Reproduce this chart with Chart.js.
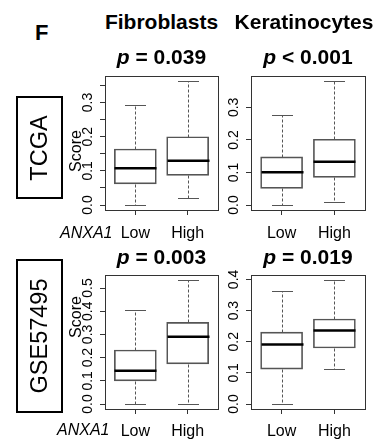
<!DOCTYPE html>
<html lang="en">
<head>
<meta charset="UTF-8">
<title>ANXA1 Fibroblast / Keratinocyte scores</title>
<script src="https://cdn.jsdelivr.net/npm/chart.js"></script>
<style>
  body { margin: 0; background: #fff; font-family: "Liberation Sans", Arial, sans-serif; }
  #fig { position: relative; width: 377px; height: 439px; overflow: hidden; }
  canvas { position: absolute; }
  .t { position: absolute; white-space: nowrap; line-height: 1; color: #000; z-index: 2; }
  .c { transform: translateX(-50%); }
  .b { font-weight: bold; }
  .rot { transform: translate(-50%, -50%) rotate(-90deg); }
  .cohort { position: absolute; border: 2px solid #000; box-sizing: border-box; z-index: 2; }
  .cohort span { position: absolute; left: 50%; top: 50%; transform: translate(-50%, -50%) rotate(-90deg);
                 font-size: 23.5px; line-height: 1; white-space: nowrap; }
</style>
</head>
<body>
<div id="fig">
  <canvas id="tcgaFib"></canvas>
  <canvas id="tcgaKer"></canvas>
  <canvas id="gseFib"></canvas>
  <canvas id="gseKer"></canvas>

  <div class="t b" style="left:35px; top:22px; font-size:22px;">F</div>
  <div class="t b c" style="left:161.5px; top:11px; font-size:21px;">Fibroblasts</div>
  <div class="t b c" style="left:304px; top:11px; font-size:21px;">Keratinocytes</div>

  <div class="t b c" style="left:161.5px; top:46px; font-size:21px;"><i>p</i> = 0.039</div>
  <div class="t b c" style="left:308px; top:46px; font-size:21px;"><i>p</i> &lt; 0.001</div>
  <div class="t b c" style="left:161.5px; top:246px; font-size:21px;"><i>p</i> = 0.003</div>
  <div class="t b c" style="left:308px; top:246px; font-size:21px;"><i>p</i> = 0.019</div>

  <div class="t rot" style="left:75.5px; top:151px; font-size:16px;">Score</div>
  <div class="t rot" style="left:75.5px; top:317px; font-size:16px;">Score</div>

  <div class="t" style="left:60px; top:224.5px; font-size:16px; font-style:italic;">ANXA1</div>
  <div class="t" style="left:57px; top:421.5px; font-size:16px; font-style:italic;">ANXA1</div>

  <div class="cohort" style="left:16px; top:96px; width:47px; height:103px;"><span>TCGA</span></div>
  <div class="cohort" style="left:16px; top:259px; width:47px; height:154px;"><span>GSE57495</span></div>
</div>

<script>
    var groups = ['Low', 'High'];

    // five-number summaries: [min, q1, median, q3, max]
    var tcgaFibLow  = [0.000, 0.062, 0.108, 0.164, 0.294];
    var tcgaFibHigh = [0.020, 0.087, 0.130, 0.200, 0.362];
    var tcgaKerLow  = [0.000, 0.051, 0.101, 0.148, 0.277];
    var tcgaKerHigh = [0.010, 0.085, 0.133, 0.202, 0.380];
    var gseFibLow   = [0.000, 0.100, 0.143, 0.233, 0.406];
    var gseFibHigh  = [0.000, 0.173, 0.290, 0.352, 0.533];
    var gseKerLow   = [0.000, 0.112, 0.191, 0.231, 0.364];
    var gseKerHigh  = [0.114, 0.180, 0.236, 0.273, 0.397];

    // y tick marks and their labels
    var tcgaFibTicks = [0, 0.05, 0.1, 0.15, 0.2, 0.25, 0.3, 0.35];
    var tcgaFibTickLabels = ['0.0', '', '0.1', '', '0.2', '', '0.3', ''];
    var tcgaKerTicks = [0, 0.1, 0.2, 0.3];
    var tcgaKerTickLabels = ['0.0', '0.1', '0.2', '0.3'];
    var gseFibTicks = [0, 0.1, 0.2, 0.3, 0.4, 0.5];
    var gseFibTickLabels = ['0.0', '0.1', '0.2', '0.3', '0.4', '0.5'];
    var gseKerTicks = [0, 0.1, 0.2, 0.3, 0.4];
    var gseKerTickLabels = ['0.0', '0.1', '0.2', '0.3', '0.4'];

    Chart.defaults.font.family = "'Liberation Sans', Arial, sans-serif";

    var axisCol = '#333';
    var boxCol = '#555';

    // whiskers, staples, medians and the plot frame
    var boxExtras = {
        id: 'boxExtras',
        afterDatasetsDraw: function (chart) {
            var ctx = chart.ctx, xs = chart.scales.x, ys = chart.scales.y, a = chart.chartArea;
            var stats = chart.data.datasets[0].stats;
            var bars = chart.getDatasetMeta(0).data;
            ctx.save();
            stats.forEach(function (s, i) {
                var cx = Math.round(xs.getPixelForValue(i + 1)) + 0.5;
                var half = bars[i].width / 2;
                var py = function (v) { return Math.round(ys.getPixelForValue(v)) + 0.5; };
                ctx.strokeStyle = boxCol;
                ctx.lineWidth = 1;
                ctx.setLineDash([3, 2]);
                ctx.beginPath();
                ctx.moveTo(cx, py(s[3])); ctx.lineTo(cx, py(s[4]));
                ctx.moveTo(cx, py(s[1])); ctx.lineTo(cx, py(s[0]));
                ctx.stroke();
                ctx.setLineDash([]);
                ctx.beginPath();
                ctx.moveTo(cx - half / 2, py(s[4])); ctx.lineTo(cx + half / 2, py(s[4]));
                ctx.moveTo(cx - half / 2, py(s[0])); ctx.lineTo(cx + half / 2, py(s[0]));
                ctx.stroke();
                ctx.strokeStyle = '#000';
                ctx.lineWidth = 2.5;
                ctx.beginPath();
                ctx.moveTo(cx - half, ys.getPixelForValue(s[2]));
                ctx.lineTo(cx + half, ys.getPixelForValue(s[2]));
                ctx.stroke();
            });
            ctx.strokeStyle = axisCol;
            ctx.lineWidth = 1;
            ctx.strokeRect(Math.round(a.left) + 0.5, Math.round(a.top) + 0.5,
                           Math.round(a.right - a.left), Math.round(a.bottom - a.top));
            ctx.restore();
        }
    };

    function makePanel(id, area, low, high, ticks, tickLabels, labelPad) {
        var canvas = document.getElementById(id);
        var padL = 46, padT = 5, padR = 6, xh = 34;
        canvas.width = area.right - area.left + padL + padR;
        canvas.height = area.bottom - area.top + padT + xh + 2;
        canvas.style.left = (area.left - padL) + 'px';
        canvas.style.top = (area.top - padT) + 'px';

        // R style axis limits: data range stretched by 4%
        var all = low.concat(high);
        var lo = Math.min.apply(null, all), hi = Math.max.apply(null, all);
        var ext = (hi - lo) * 0.04;

        return new Chart(canvas, {
            type: 'bar',
            data: {
                datasets: [{
                    data: [{ x: 1, y: [low[1], low[3]] }, { x: 2, y: [high[1], high[3]] }],
                    stats: [low, high],
                    backgroundColor: 'rgba(0,0,0,0)',
                    borderColor: boxCol,
                    borderWidth: 1,
                    borderSkipped: false,
                    barThickness: 42
                }]
            },
            options: {
                responsive: false,
                animation: false,
                devicePixelRatio: 1,
                layout: { padding: { left: 0, top: padT, right: padR, bottom: 2 } },
                plugins: { legend: { display: false }, tooltip: { enabled: false } },
                scales: {
                    x: {
                        type: 'linear', min: 0.42, max: 2.58, offset: false,
                        border: { display: false },
                        grid: { drawOnChartArea: false, offset: false, tickLength: 5, color: axisCol },
                        ticks: { color: '#000', font: { size: 16 }, padding: labelPad, autoSkip: false,
                                 callback: function (v) { return groups[v - 1]; } },
                        afterBuildTicks: function (s) { s.ticks = [{ value: 1 }, { value: 2 }]; },
                        afterFit: function (s) { s.height = xh; }
                    },
                    y: {
                        min: lo - ext, max: hi + ext,
                        border: { display: false },
                        grid: { drawOnChartArea: false, tickLength: 5, color: axisCol },
                        ticks: { color: '#000', font: { size: 14 }, padding: 2, autoSkip: false,
                                 minRotation: 90, maxRotation: 90, crossAlign: 'center',
                                 callback: function (v, i) { return tickLabels[i]; } },
                        afterBuildTicks: function (s) { s.ticks = ticks.map(function (v) { return { value: v }; }); },
                        afterFit: function (s) { s.width = padL; }
                    }
                }
            },
            plugins: [boxExtras]
        });
    }

    makePanel('tcgaFib', { left: 105, top: 71, right: 218, bottom: 210 }, tcgaFibLow, tcgaFibHigh, tcgaFibTicks, tcgaFibTickLabels, 9);
    makePanel('tcgaKer', { left: 251, top: 71, right: 365, bottom: 210 }, tcgaKerLow, tcgaKerHigh, tcgaKerTicks, tcgaKerTickLabels, 9);
    makePanel('gseFib', { left: 105, top: 270, right: 218, bottom: 409 }, gseFibLow, gseFibHigh, gseFibTicks, gseFibTickLabels, 8);
    makePanel('gseKer', { left: 251, top: 270, right: 365, bottom: 409 }, gseKerLow, gseKerHigh, gseKerTicks, gseKerTickLabels, 8);
</script>
</body>
</html>
